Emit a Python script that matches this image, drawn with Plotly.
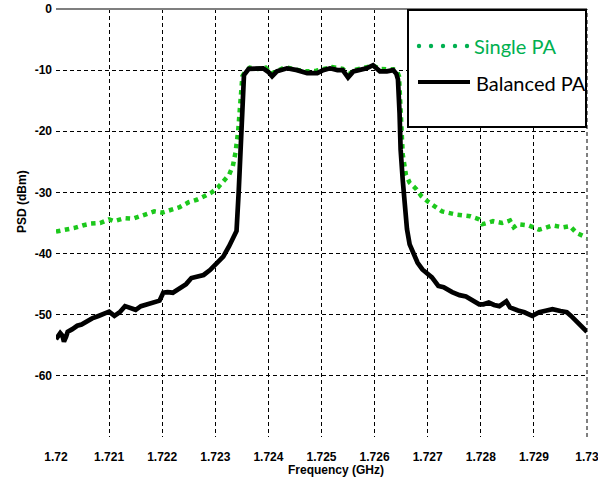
import plotly.graph_objects as go

# ---------------- data ----------------
balanced_f = [1.72000, 1.72004, 1.72008, 1.72012, 1.72015, 1.72019, 1.72022, 1.72030, 1.72040,
              1.72048, 1.72055, 1.72068, 1.72080, 1.72092, 1.72100, 1.72110, 1.72120, 1.72130,
              1.72138, 1.72150, 1.72160, 1.72170, 1.72185, 1.72195, 1.72202, 1.72210, 1.72220,
              1.72235, 1.72245, 1.72255, 1.72265, 1.72278, 1.72290, 1.72300, 1.72307, 1.72315,
              1.72326, 1.72335, 1.72340, 1.72344, 1.72347, 1.72350, 1.72354, 1.72363, 1.72373,
              1.72390, 1.72400, 1.72407, 1.72416, 1.72435, 1.72454, 1.72473, 1.72492, 1.72503,
              1.72516, 1.72530, 1.72540, 1.72550, 1.72560, 1.72572, 1.72585, 1.72597, 1.72610,
              1.72623, 1.72635, 1.72641, 1.72644, 1.72647, 1.72649, 1.72653, 1.72656, 1.72661,
              1.72666, 1.72673, 1.72681, 1.72690, 1.72698, 1.72708, 1.72720, 1.72730, 1.72746,
              1.72760, 1.72772, 1.72785, 1.72797, 1.72805, 1.72815, 1.72825, 1.72835, 1.72848,
              1.72855, 1.72870, 1.72882, 1.72897, 1.72910, 1.72920, 1.72935, 1.72950, 1.72962,
              1.72970, 1.72980, 1.72990, 1.73000]
balanced_psd = [-54.0, -53.6, -53.0, -53.4, -54.4, -53.6, -52.8, -52.4, -51.8,
                -51.6, -51.2, -50.6, -50.2, -49.8, -49.5, -50.2, -49.6, -48.6,
                -48.9, -49.2, -48.6, -48.3, -47.9, -47.7, -46.4, -46.3, -46.4,
                -45.5, -45.0, -44.0, -43.8, -43.5, -42.7, -41.8, -41.3, -40.5,
                -38.8, -37.2, -36.3, -30.0, -24.0, -17.0, -10.8, -9.8, -9.7,
                -9.7, -10.3, -11.0, -10.2, -9.7, -10.0, -10.5, -10.5, -10.0,
                -9.7, -10.0, -10.0, -11.2, -10.2, -10.0, -9.7, -9.2, -10.2,
                -10.2, -10.0, -10.6, -11.5, -17.0, -23.0, -28.0, -32.0, -36.0,
                -38.5, -39.8, -41.5, -42.6, -43.2, -43.9, -45.3, -45.5, -46.3,
                -46.8, -47.0, -47.6, -48.3, -48.3, -48.0, -48.4, -48.6, -47.8,
                -48.8, -49.3, -49.6, -50.2, -49.6, -49.4, -49.1, -49.4, -49.6,
                -50.2, -51.0, -52.0, -52.8]

single_f = [1.72000, 1.72019, 1.72035, 1.72050, 1.72065, 1.72083, 1.72100, 1.72110, 1.72120,
            1.72130, 1.72145, 1.72160, 1.72170, 1.72185, 1.72200, 1.72215, 1.72233, 1.72250,
            1.72265, 1.72280, 1.72293, 1.72305, 1.72314, 1.72326, 1.72333, 1.72338, 1.72343,
            1.72347, 1.72351, 1.72356, 1.72365, 1.72380, 1.72395, 1.72405, 1.72418, 1.72432,
            1.72450, 1.72470, 1.72490, 1.72505, 1.72520, 1.72540, 1.72552, 1.72565, 1.72580,
            1.72597, 1.72612, 1.72628, 1.72641, 1.72646, 1.72650, 1.72653, 1.72659, 1.72666,
            1.72679, 1.72688, 1.72702, 1.72715, 1.72727, 1.72752, 1.72780, 1.72797, 1.72803,
            1.72823, 1.72840, 1.72855, 1.72862, 1.72870, 1.72890, 1.72910, 1.72935, 1.72955,
            1.72968, 1.72980, 1.73000]
single_psd = [-36.4, -36.1, -35.8, -35.4, -35.1, -35.0, -34.4, -34.7, -34.5,
              -34.2, -34.3, -33.9, -33.5, -33.1, -33.3, -32.9, -32.4, -31.6,
              -31.2, -30.6, -30.0, -29.2, -28.4, -27.1, -25.7, -23.5, -20.0,
              -15.0, -11.0, -10.3, -9.6, -9.8, -9.6, -10.6, -10.0, -9.5,
              -9.9, -10.2, -10.1, -9.8, -9.5, -9.8, -10.6, -9.9, -9.6,
              -9.3, -9.8, -9.9, -9.9, -11.0, -17.0, -23.8, -27.1, -28.4,
              -29.5, -30.6, -31.6, -32.5, -33.1, -33.6, -33.9, -34.4, -35.2,
              -34.7, -35.0, -34.6, -35.7, -35.2, -35.4, -36.1, -35.4, -35.7,
              -35.5, -36.6, -37.4]

x_ticks = [1.720, 1.721, 1.722, 1.723, 1.724, 1.725, 1.726, 1.727, 1.728, 1.729, 1.730]
x_ticktext = ["1.72", "1.721", "1.722", "1.723", "1.724", "1.725", "1.726", "1.727",
              "1.728", "1.729", "1.73"]
y_ticks = [-70, -60, -50, -40, -30, -20, -10, 0]
y_ticktext = ["", "-60", "-50", "-40", "-30", "-20", "-10", "0"]

series_names = ["Single PA", "Balanced PA"]

# ---------------- figure ----------------
W, H = 598, 484
L, R, T, B = 56, 11, 9, 47
PW, PH = W - L - R, H - T - B

def px(xp):
    return (xp - L) / PW

def py(yp):
    return (H - B - yp) / PH

tick_font = dict(family="Arial, Liberation Sans", size=12, color="black", weight="bold")
GRID_DASH = "4px,3px"

fig = go.Figure()
fig.add_trace(go.Scatter(x=single_f, y=single_psd, mode="lines", name=series_names[0],
                         line=dict(color="rgb(28,200,28)", width=4.5, dash="dot")))
fig.add_trace(go.Scatter(x=balanced_f, y=balanced_psd, mode="lines", name=series_names[1],
                         line=dict(color="black", width=4.7)))

fig.update_layout(
    width=W, height=H, margin=dict(l=L, r=R, t=T, b=B, pad=0, autoexpand=False),
    paper_bgcolor="white", plot_bgcolor="white", showlegend=False,
    font=dict(family="Arial, Liberation Sans"),
)
fig.update_xaxes(range=[1.72, 1.7300001], tickvals=x_ticks, ticktext=x_ticktext,
                 showgrid=True, gridcolor="black", gridwidth=1, griddash=GRID_DASH,
                 zeroline=False, showline=False, ticks="", tickfont=tick_font,
                 ticklabelstandoff=11, automargin=False, ticklabeloverflow="allow")
fig.update_yaxes(range=[-70, 0.00001], tickvals=y_ticks, ticktext=y_ticktext,
                 showgrid=True, gridcolor="black", gridwidth=1, griddash=GRID_DASH,
                 zeroline=False, showline=False, ticks="", tickfont=tick_font,
                 ticklabelstandoff=3, automargin=False, ticklabeloverflow="allow")

shapes = []
# frame: top grey line, right dashed edge
shapes.append(dict(type="line", xref="paper", yref="paper", x0=0, x1=1, y0=1, y1=1,
                   line=dict(color="#7f7f7f", width=2)))
shapes.append(dict(type="line", xref="paper", yref="paper", x0=1, x1=1, y0=0, y1=1,
                   line=dict(color="black", width=1, dash=GRID_DASH), layer="below"))
# legend box
shapes.append(dict(type="rect", xref="paper", yref="paper", x0=px(408), x1=px(586),
                   y0=py(127), y1=py(10), fillcolor="white",
                   line=dict(color="black", width=2)))
# legend green dots
for xd in [419, 431, 443, 455, 467]:
    shapes.append(dict(type="circle", xref="paper", yref="paper",
                       x0=px(xd - 2.2), x1=px(xd + 2.2), y0=py(46 + 2.2), y1=py(46 - 2.2),
                       fillcolor="#00B050", line=dict(width=0)))
# legend black line
shapes.append(dict(type="line", xref="paper", yref="paper", x0=px(418), x1=px(470),
                   y0=py(82), y1=py(82), line=dict(color="black", width=4)))
fig.update_layout(shapes=shapes)

annotations = [
    dict(text="Single PA", xref="paper", yref="paper", x=px(472), y=py(46),
         xanchor="left", yanchor="middle", showarrow=False,
         font=dict(family="Lato, Open Sans", size=20, color="#00B050")),
    dict(text="Balanced PA", xref="paper", yref="paper", x=px(474), y=py(83),
         xanchor="left", yanchor="middle", showarrow=False,
         font=dict(family="Lato, Open Sans", size=20, color="black")),
    dict(text="<b>PSD (dBm)</b>", xref="paper", yref="paper", x=px(22), y=py(202),
         xanchor="center", yanchor="middle", textangle=-90, showarrow=False,
         font=dict(family="Arial, Liberation Sans", size=12, color="black")),
    dict(text="<b>Frequency (GHz)</b>", xref="paper", yref="paper", x=px(336), y=py(470),
         xanchor="center", yanchor="middle", showarrow=False,
         font=dict(family="Arial, Liberation Sans", size=12, color="black")),
]
fig.update_layout(annotations=annotations)

fig.write_html("out.html", config={"displayModeBar": False},
               post_script="document.body.style.margin='0px';")
